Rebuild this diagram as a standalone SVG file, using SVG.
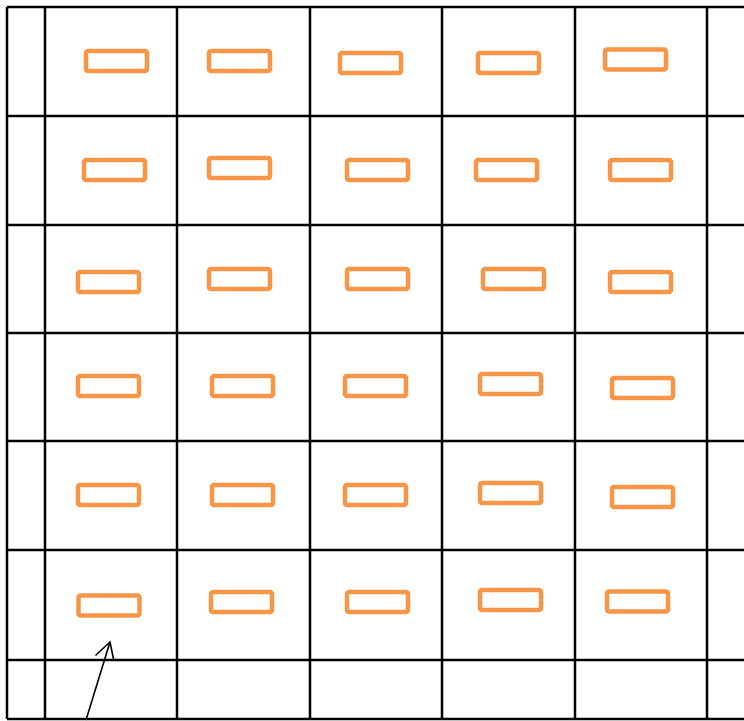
<svg xmlns="http://www.w3.org/2000/svg" width="744" height="721" viewBox="0 0 744 721">
<style>
.g{stroke:#000;stroke-width:2.5;fill:none}
.r{fill:#fff;stroke:#F79646;stroke-width:4.5}
.a{stroke:#000;stroke-width:1.6;fill:none}
</style>
<rect width="744" height="721" fill="#fff"/>
<g id="grid" class="g">
<line x1="7" y1="7" x2="744" y2="7"/>
<line x1="7" y1="116" x2="744" y2="116"/>
<line x1="7" y1="225" x2="744" y2="225"/>
<line x1="7" y1="333" x2="744" y2="333"/>
<line x1="7" y1="441" x2="744" y2="441"/>
<line x1="7" y1="550" x2="744" y2="550"/>
<line x1="7" y1="660" x2="744" y2="660"/>
<line x1="7" y1="719" x2="744" y2="719"/>
<line x1="7" y1="7" x2="7" y2="719"/>
<line x1="45" y1="7" x2="45" y2="719"/>
<line x1="177" y1="7" x2="177" y2="719"/>
<line x1="310" y1="7" x2="310" y2="719"/>
<line x1="442" y1="7" x2="442" y2="719"/>
<line x1="575" y1="7" x2="575" y2="719"/>
<line x1="707" y1="7" x2="707" y2="719"/>
</g>
<g id="row1">
<rect id="n11" class="r" x="86" y="51" width="61" height="20" rx="2"/>
<rect id="n12" class="r" x="209" y="51" width="61" height="20" rx="2"/>
<rect id="n13" class="r" x="340" y="53" width="61" height="20" rx="2"/>
<rect id="n14" class="r" x="478" y="53" width="61" height="20" rx="2"/>
<rect id="n15" class="r" x="605" y="49.5" width="61" height="20" rx="2"/>
</g>
<g id="row2">
<rect id="n21" class="r" x="84" y="160" width="61" height="20" rx="2"/>
<rect id="n22" class="r" x="209" y="158" width="61" height="20" rx="2"/>
<rect id="n23" class="r" x="347" y="160" width="61" height="20" rx="2"/>
<rect id="n24" class="r" x="476" y="160" width="61" height="20" rx="2"/>
<rect id="n25" class="r" x="610" y="160" width="61" height="20" rx="2"/>
</g>
<g id="row3">
<rect id="n31" class="r" x="78" y="272" width="61" height="20" rx="2"/>
<rect id="n32" class="r" x="209" y="269" width="61" height="20" rx="2"/>
<rect id="n33" class="r" x="347" y="269" width="61" height="20" rx="2"/>
<rect id="n34" class="r" x="483" y="269" width="61" height="20" rx="2"/>
<rect id="n35" class="r" x="610" y="272" width="61" height="20" rx="2"/>
</g>
<g id="row4">
<rect id="n41" class="r" x="78" y="376" width="61" height="20" rx="2"/>
<rect id="n42" class="r" x="212" y="376" width="61" height="20" rx="2"/>
<rect id="n43" class="r" x="345" y="376" width="61" height="20" rx="2"/>
<rect id="n44" class="r" x="480" y="374" width="61" height="20" rx="2"/>
<rect id="n45" class="r" x="612" y="378" width="61" height="20" rx="2"/>
</g>
<g id="row5">
<rect id="n51" class="r" x="78" y="485" width="61" height="20" rx="2"/>
<rect id="n52" class="r" x="212" y="485" width="61" height="20" rx="2"/>
<rect id="n53" class="r" x="345" y="485" width="61" height="20" rx="2"/>
<rect id="n54" class="r" x="480" y="483" width="61" height="20" rx="2"/>
<rect id="n55" class="r" x="612" y="487" width="61" height="20" rx="2"/>
</g>
<g id="row6">
<rect id="n61" class="r" x="78.5" y="595.5" width="61" height="20" rx="2"/>
<rect id="n62" class="r" x="211" y="592" width="61" height="20" rx="2"/>
<rect id="n63" class="r" x="347" y="592" width="61" height="20" rx="2"/>
<rect id="n64" class="r" x="480" y="590" width="61" height="20" rx="2"/>
<rect id="n65" class="r" x="607" y="591.5" width="61" height="20" rx="2"/>
</g>
<g id="connectors" class="a">
<line x1="86" y1="720" x2="110" y2="642"/>
<polyline points="95.5,655.5 110,642 113.5,659"/>
</g>
</svg>
